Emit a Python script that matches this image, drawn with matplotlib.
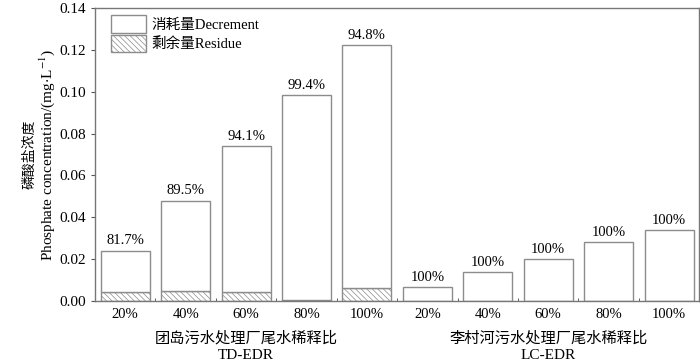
import matplotlib
matplotlib.use('Agg')
import matplotlib.pyplot as plt
import numpy as np

plt.rcParams['font.family'] = ['Liberation Serif', 'Noto Sans CJK SC']
plt.rcParams['mathtext.fontset'] = 'stix'
plt.rcParams['hatch.color'] = '#ababab'
plt.rcParams['hatch.linewidth'] = 0.5

ratios = ['20%', '40%', '60%', '80%', '100%', '20%', '40%', '60%', '80%', '100%']
totals = [0.0241, 0.0480, 0.0742, 0.0985, 0.1224, 0.0067, 0.0137, 0.0200, 0.0282, 0.0340]
residues = [0.0044, 0.0050, 0.0044, 0.0006, 0.0063, 0.0, 0.0, 0.0, 0.0, 0.0]
removal = ['81.7%', '89.5%', '94.1%', '99.4%', '94.8%', '100%', '100%', '100%', '100%', '100%']
groups = ['团岛污水处理厂尾水稀释比', '李村河污水处理厂尾水稀释比']
group_codes = ['TD-EDR', 'LC-EDR']

x = np.arange(len(ratios))
decrement = np.array(totals) - np.array(residues)

fig = plt.figure(figsize=(7, 3.64), dpi=100)
ax = fig.add_axes([0.1357, 0.173, 0.8633, 0.805])

edge = '#8c8c8c'
ax.bar(x, residues, width=0.81, color='white', edgecolor=edge, hatch='\\\\\\\\\\\\', linewidth=1.0, label='剩余量Residue')
ax.bar(x, decrement, width=0.81, bottom=residues, color='white', edgecolor=edge, linewidth=1.0, label='消耗量Decrement')

for i in range(len(x)):
    ax.text(x[i], totals[i] + 0.0015, removal[i], ha='center', va='bottom', fontsize=10.5)

ax.set_xlim(-0.5, 9.5)
ax.set_ylim(0, 0.14)
ax.set_yticks(np.arange(0, 0.141, 0.02))
ax.set_yticklabels(['{:.2f}'.format(v) for v in np.arange(0, 0.141, 0.02)], fontsize=11)
ax.set_xticks(x)
ax.set_xticklabels(ratios, fontsize=10.5)
ax.tick_params(axis='x', length=0, pad=5)
ax.set_xticks(np.arange(0.5, 9, 1), minor=True)
ax.tick_params(axis='x', which='minor', direction='in', length=2, color='#444444')
ax.tick_params(axis='y', length=3, color='#555555')

for s in ax.spines.values():
    s.set_color('#777777')
    s.set_linewidth(1.0)

for g in range(2):
    cx = 2 + g * 5
    ax.text(cx, -0.0178, groups[g], ha='center', va='center', fontsize=11)
    ax.text(cx, -0.0262, group_codes[g], ha='center', va='center', fontsize=11)

fig.text(0.043, 0.173 + 0.805 * 0.5, '磷酸盐浓度', rotation=90, ha='center', va='center', fontsize=10)
fig.text(0.068, 0.173 + 0.805 * 0.5, r'Phosphate concentration/(mg$\cdot$L$^{-1}$)', rotation=90,
         ha='center', va='center', fontsize=11)

h, l = ax.get_legend_handles_labels()
leg = ax.legend(h[::-1], l[::-1], loc='upper left', frameon=False, fontsize=10.5,
                handlelength=2.4, handleheight=1.5, borderaxespad=0.1, labelspacing=0.1,
                handletextpad=0.35, bbox_to_anchor=(0.015, 1.0))

fig.savefig('out.png', dpi=100)
